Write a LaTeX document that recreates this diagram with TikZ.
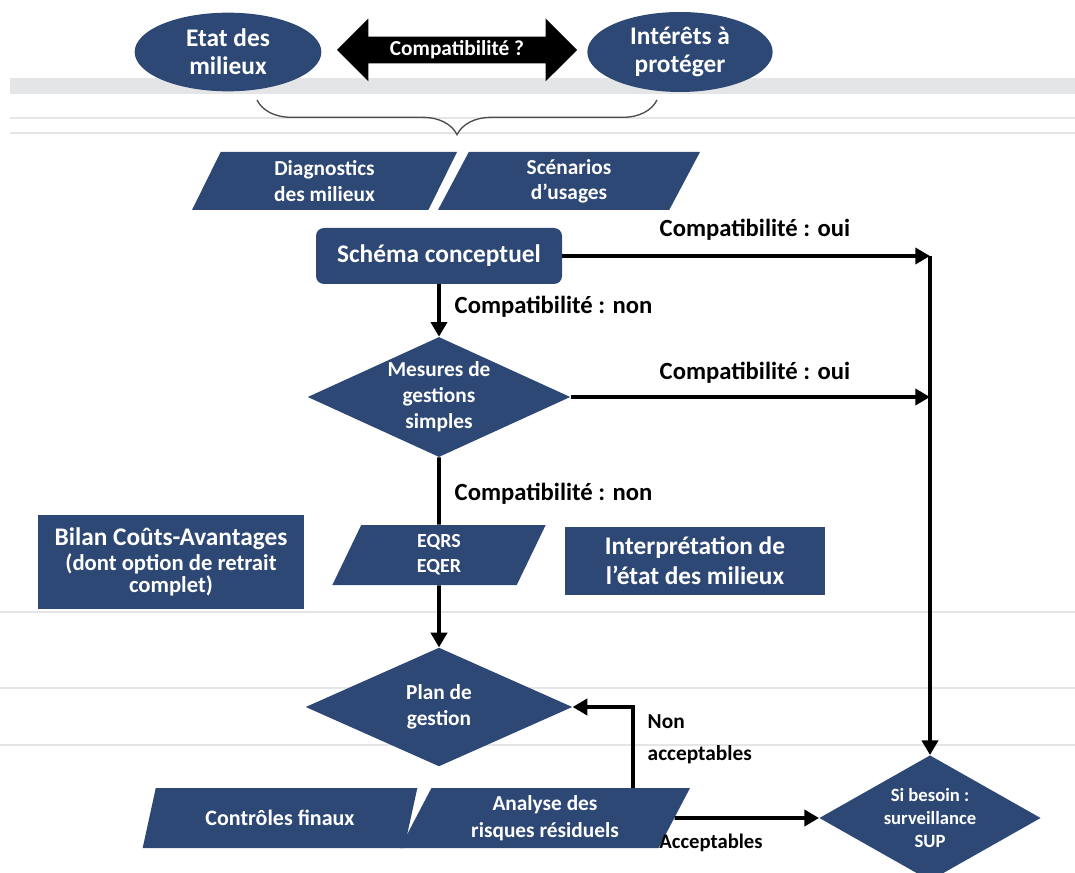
\documentclass[tikz,border=0pt]{standalone}
\usepackage{fontspec}
\setmainfont{Carlito}
\usetikzlibrary{shapes.geometric,shapes.arrows,arrows.meta,decorations.pathreplacing}
\definecolor{navy}{RGB}{46,72,118}
\definecolor{bgline}{RGB}{228,229,231}
\begin{document}
\begin{tikzpicture}[x=0.75pt,y=-0.75pt,
  box/.style={fill=navy,text=white,align=center,inner sep=2pt},
  ell/.style={box,ellipse,inner sep=0pt},
  para/.style={box,trapezium,trapezium left angle=58,trapezium right angle=122,trapezium stretches body},
  dia/.style={box,diamond,aspect=2.2,inner sep=0pt},
  lab/.style={font=\bfseries\fontsize{18.5}{22}\selectfont},
  con/.style={line width=2.8pt},
  arr/.style={con,-{Triangle[length=11pt,width=12pt]}},
  bgl/.style={bgline,line width=1.2pt},
]
\useasboundingbox (0,0) rectangle (1075,873);
% faint background lines of the slide
\fill[bgline] (10,78) rectangle (1075,94);
\draw[bgl] (10,118) -- (1075,118);
\draw[bgl] (10,133) -- (1075,133);
\draw[bgl] (0,612) -- (1075,612);
\draw[bgl] (0,688) -- (1075,688);
\draw[bgl] (0,745) -- (1075,745);

% nodes
\node[ell,minimum width=140pt,minimum height=59pt,font=\bfseries\fontsize{19}{21}\selectfont] (etat) at (228,52) {Etat des\\milieux};
\node[ell,minimum width=139pt,minimum height=60pt,font=\bfseries\fontsize{19}{21}\selectfont] (int) at (680,52) {Intérêts à\\protéger};
\node[double arrow,fill=black,text=white,font=\bfseries\fontsize{16}{18}\selectfont,minimum height=180pt,double arrow head extend=13.5pt,inner ysep=3pt,inner xsep=0pt] (dbl) at (457,50) {Compatibilité ?};

\draw[decorate,decoration={brace,amplitude=26pt},line width=1pt,black!70] (657,100) -- (257,100);

\node[para,minimum width=198.75pt,minimum height=43.5pt,font=\bfseries\fontsize{16}{19}\selectfont] (diag) at (324.5,181) {Diagnostics\\des milieux};
\node[para,minimum width=196.5pt,minimum height=43.5pt,font=\bfseries\fontsize{16}{19}\selectfont] (scen) at (569,181) {Scénarios\\d’usages};

\node[box,rounded corners=6pt,minimum width=184.5pt,minimum height=42pt,font=\bfseries\fontsize{19}{22}\selectfont] (schema) at (439,256) {Schéma conceptuel};

\node[dia,minimum width=197pt,minimum height=90pt,font=\bfseries\fontsize{16}{19.5}\selectfont] (mes) at (439,397) {Mesures de\\gestions\\simples};

\node[box,minimum width=200pt,minimum height=71pt] (bilan) at (171,562) {{\bfseries\fontsize{19}{20}\selectfont Bilan Coûts-Avantages}\\[2pt]{\bfseries\fontsize{17}{20}\selectfont (dont option de retrait}\\{\bfseries\fontsize{17}{20}\selectfont complet)}};

\node[para,minimum width=160pt,minimum height=45pt,font=\bfseries\fontsize{15}{19}\selectfont] (eq) at (439,555) {EQRS\\EQER};

\node[box,minimum width=195pt,minimum height=51pt,font=\bfseries\fontsize{19}{22.5}\selectfont] (interp) at (695,561) {Interprétation de\\l’état des milieux};

\node[dia,minimum width=200pt,minimum height=89pt,font=\bfseries\fontsize{16}{19.5}\selectfont] (plan) at (439,707) {Plan de\\gestion};

\node[para,minimum width=206pt,minimum height=45pt,font=\bfseries\fontsize{16.5}{19}\selectfont] (ctrl) at (280,818) {Contrôles finaux};
\node[para,minimum width=217.5pt,minimum height=45pt,font=\bfseries\fontsize{16}{20}\selectfont] (ana) at (545,818) {Analyse des\\risques résiduels};

\node[dia,minimum width=162pt,minimum height=94pt,font=\bfseries\fontsize{14}{17}\selectfont] (sup) at (930,818) {Si besoin :\\surveillance\\SUP};

% connectors
\draw[arr] (schema.east) -- (schema.east -| sup.north);
\draw[arr] (mes.east) -- (mes.east -| sup.north);
\draw[arr] (schema.east -| sup.north) -- (sup.north);
\draw[arr] (schema.south) -- (mes.north);
\draw[con] (mes.south) -- (eq.north);
\draw[arr] (eq.south) -- (plan.north);
\coordinate (na) at (633,707);
\draw[arr] (na |- ana.north) -- (na) -- (plan.east);
\draw[arr] (ana.east) -- (sup.west);

% labels
\node[lab,anchor=west] (l1) at (655,230) {Compatibilité : oui};
\node[lab,anchor=west] (l2) at (655,373) {Compatibilité : oui};
\node[lab,anchor=west] (l3) at (450,307) {Compatibilité : non};
\node[lab,anchor=west] (l4) at (450,494) {Compatibilité : non};
\node[anchor=west,align=left,font=\bfseries\fontsize{16}{24}\selectfont] (l5) at (643,739) {Non\\acceptables};
\node[font=\bfseries\fontsize{15.5}{17}\selectfont] (l6) at (711,843) {Acceptables};
\end{tikzpicture}
\end{document}
